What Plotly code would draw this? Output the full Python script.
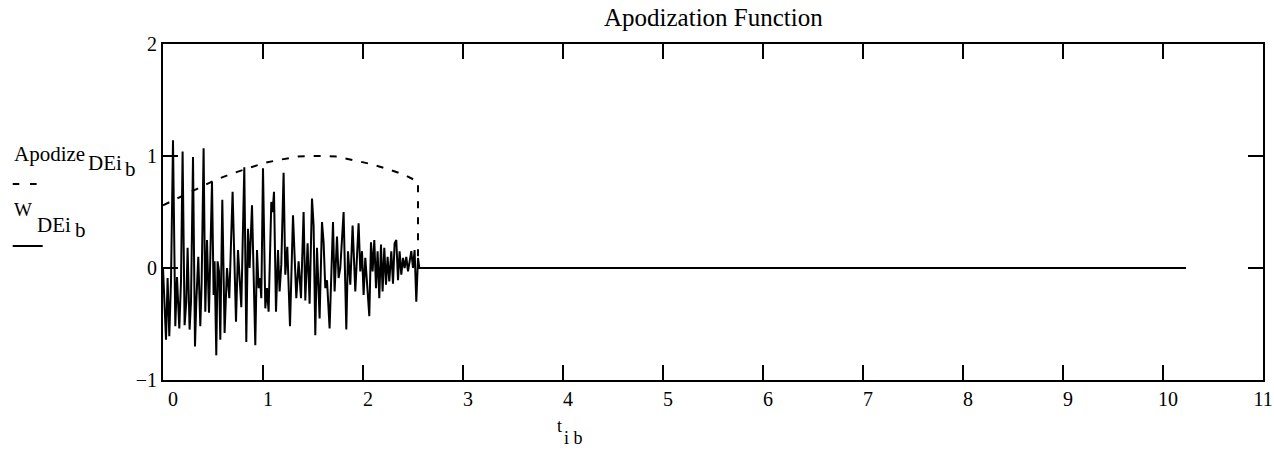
import plotly.graph_objects as go

# ---- data ----
t_w = [0.00, 0.03, 0.046, 0.063, 0.08, 0.10, 0.123, 0.14, 0.163, 0.18, 0.196, 0.216, 0.233, 0.246,
       0.266, 0.28, 0.30, 0.32, 0.333, 0.353, 0.373, 0.386, 0.406, 0.423, 0.44, 0.46, 0.473, 0.49,
       0.506, 0.516, 0.533, 0.546, 0.56, 0.573, 0.593, 0.616, 0.64, 0.663, 0.696, 0.73, 0.75, 0.766,
       0.783, 0.813, 0.833, 0.85, 0.866, 0.89, 0.923, 0.94, 0.956, 0.97, 0.983, 1.0, 1.023, 1.04,
       1.056, 1.083, 1.096, 1.11, 1.13, 1.15, 1.166, 1.183, 1.206, 1.223, 1.243, 1.27, 1.30, 1.333,
       1.356, 1.38, 1.406, 1.423, 1.446, 1.466, 1.49, 1.506, 1.523, 1.54, 1.566, 1.59, 1.606, 1.623,
       1.64, 1.666, 1.70, 1.716, 1.74, 1.756, 1.773, 1.806, 1.833, 1.85, 1.873, 1.896, 1.923, 1.956,
       1.973, 1.99, 2.006, 2.023, 2.04, 2.063, 2.08, 2.096, 2.113, 2.13, 2.146, 2.163, 2.18, 2.196,
       2.213, 2.23, 2.246, 2.263, 2.283, 2.30, 2.316, 2.333, 2.35, 2.366, 2.383, 2.40, 2.416, 2.433,
       2.45, 2.466, 2.483, 2.50, 2.516, 2.533, 2.55, 2.563, 10.23]
w_de = [0.0, -0.64, -0.09, -0.61, -0.12, 1.14, -0.52, -0.08, -0.54, -0.12, 1.04, -0.51, -0.30, 0.18,
        -0.55, -0.30, 0.99, -0.70, -0.30, 0.10, -0.52, -0.15, 1.07, -0.39, 0.25, -0.40, 0.09, 0.77,
        -0.24, 0.06, -0.78, 0.06, -0.03, -0.64, 0.61, -0.58, 0.0, -0.27, 0.68, -0.48, 0.16, -0.12,
        -0.35, 0.90, -0.66, 0.35, 0.0, 0.56, -0.69, 0.16, -0.18, -0.09, -0.27, 0.89, -0.36, -0.18,
        -0.39, 0.59, 0.50, 0.68, -0.39, 0.16, -0.21, 0.03, 0.85, -0.06, 0.19, -0.52, 0.47, -0.27,
        0.06, -0.27, 0.50, -0.29, 0.22, -0.32, 0.62, 0.38, -0.60, 0.18, -0.45, 0.41, 0.23, -0.18,
        -0.11, -0.54, 0.41, -0.21, 0.28, -0.09, 0.0, 0.50, -0.55, 0.15, -0.15, 0.38, -0.21, 0.40,
        -0.03, 0.15, -0.24, 0.09, -0.12, -0.43, 0.23, -0.03, 0.25, -0.18, 0.15, -0.27, 0.21, -0.21,
        0.18, -0.15, 0.10, -0.12, 0.15, -0.14, 0.22, 0.25, -0.11, 0.15, -0.06, 0.09, 0.0, 0.10,
        -0.03, 0.06, 0.15, 0.0, 0.16, -0.30, 0.09, 0.0, 0.0]

t_apod = [0.0, 0.19, 0.35, 0.51, 0.68, 0.84, 1.02, 1.19, 1.35, 1.54, 1.74, 1.92, 2.07, 2.26, 2.42,
          2.55, 2.55, 10.23]
apod_de = [0.56, 0.64, 0.71, 0.78, 0.84, 0.89, 0.94, 0.97, 0.995, 1.0, 0.995, 0.96, 0.93, 0.88,
           0.83, 0.77, 0.0, 0.0]

x_ticks = list(range(0, 12))
# leading figure spaces nudge the labels right of their ticks, as in the original
x_tick_labels = ["\u2007\u20070"] + ["\u2007" + str(v) for v in range(1, 11)] + ["11"]
y_ticks = [-1, 0, 1, 2]
y_tick_labels = ["\u22121", "0", "1", "2"]
x_range = [0, 11]
y_range = [-1, 2]

title_text = "Apodization Function"

# ---- figure ----
W, H = 1274, 459
L, R, T, B = 163, 11, 44, 79
PW, PH = W - L - R, H - T - B
FONT = "Liberation Serif"


def px(x):
    return (x - L) / PW


def py(y):
    return (H - B - y) / PH


fig = go.Figure()
fig.add_trace(go.Scatter(x=t_apod, y=apod_de, mode="lines",
                         line=dict(color="black", width=2, dash="7px,9px"),
                         showlegend=False, hoverinfo="skip"))
fig.add_trace(go.Scatter(x=t_w, y=w_de, mode="lines",
                         line=dict(color="black", width=2),
                         showlegend=False, hoverinfo="skip"))

axis_common = dict(showgrid=False, zeroline=False, showline=True, linecolor="black",
                   linewidth=2, mirror="ticks", ticks="inside", ticklen=15, tickwidth=1.5,
                   tickcolor="black", automargin=False,
                   tickfont=dict(family=FONT, size=20, color="black"))

fig.update_xaxes(range=x_range, tickvals=x_ticks, ticktext=x_tick_labels,
                 ticklabeloverflow="allow", **axis_common)
fig.update_yaxes(range=y_range, tickvals=y_ticks, ticktext=y_tick_labels, **axis_common)

annotations = []


def add_text(text, x_left, baseline, size, anchor="left"):
    annotations.append(dict(text=text, xref="paper", yref="paper", x=px(x_left),
                            y=py(baseline - 0.32 * size), xanchor=anchor, yanchor="middle",
                            showarrow=False, font=dict(family=FONT, size=size, color="black")))


add_text(title_text, 713, 25, 25, anchor="center")
# legend-like labels on the left
add_text("Apodize", 12, 161, 21)
add_text("DEi", 86, 169.5, 21)
add_text("b", 123, 175.5, 21)
add_text("W", 12, 216, 19)
add_text("DEi", 35, 231.5, 21)
add_text("b", 73, 237, 21)
# x-axis title
add_text("t", 555, 432, 18)
add_text("i b", 562, 444, 18)

shapes = [
    dict(type="line", xref="paper", yref="paper", x0=px(12.7), x1=px(36.7), y0=py(184), y1=py(184),
         line=dict(color="black", width=2, dash="6.6px,10.7px")),
    dict(type="line", xref="paper", yref="paper", x0=px(12.7), x1=px(42.7), y0=py(246), y1=py(246),
         line=dict(color="black", width=2)),
]

fig.update_layout(width=W, height=H, margin=dict(l=L, r=R, t=T, b=B, pad=0, autoexpand=False),
                  plot_bgcolor="white", paper_bgcolor="white",
                  font=dict(family=FONT, size=20, color="black"),
                  annotations=annotations, shapes=shapes, showlegend=False)

fig.write_html("out.html", config={"displayModeBar": False},
               post_script="document.body.style.margin='0px';")
